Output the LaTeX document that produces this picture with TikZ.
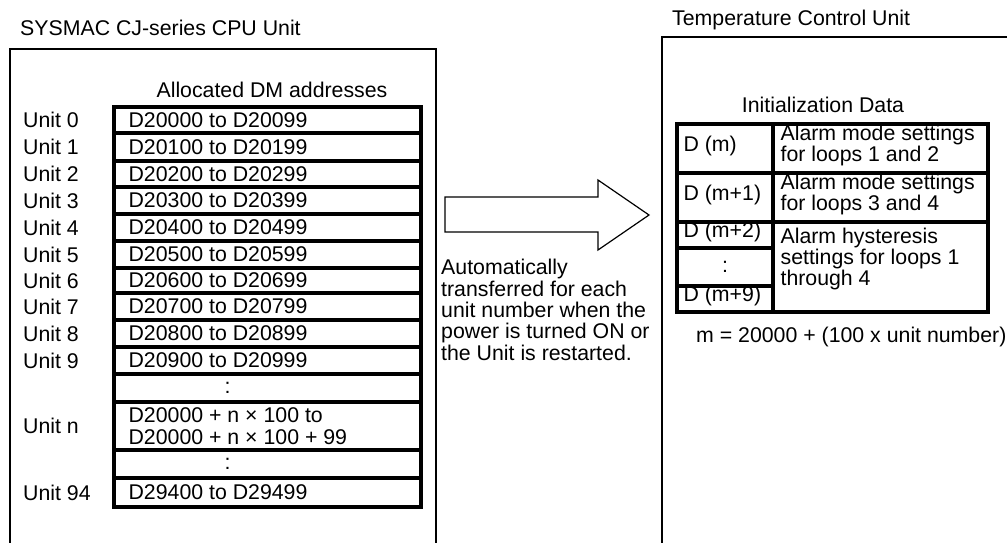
\documentclass[tikz,border=0pt]{standalone}
\usepackage{fontspec}
\setmainfont{Liberation Sans}
\usetikzlibrary{positioning}
\definecolor{inkline}{HTML}{000000}
\tikzset{
  unitbox/.style = {draw=inkline, line width=2.6pt},
  cell/.style    = {rectangle, draw=inkline, line width=3.2pt, inner sep=0pt},
  lbl/.style     = {font=\fontsize{21.3}{21.4}\selectfont, inner sep=0pt, align=left},
  xfer/.style    = {draw=inkline, line width=1.2pt, line join=miter},
}

\begin{document}
\begin{tikzpicture}[x=1pt, y=-1pt]
    \useasboundingbox (0,0) rectangle (1007,542);
    \clip (0,0) rectangle (1007,542);
    % CPU Unit
    \draw[unitbox] (10,49) rectangle (436,560);
    \node[lbl, anchor=west] (cpu) at (20,28) {SYSMAC CJ-series CPU Unit};
    \node[lbl] (dmhdr) at (272,90) {Allocated DM addresses};
    \foreach \r/\yt/\yb/\lab/\dx/\addr in {0/107/133/Unit 0/16/D20000 to D20099,
        1/133/161/Unit 1/16/D20100 to D20199, 2/161/187/Unit 2/16/D20200 to D20299,
        3/187/214/Unit 3/16/D20300 to D20399, 4/214/241/Unit 4/16/D20400 to D20499,
        5/241/268/Unit 5/16/D20500 to D20599, 6/268/293/Unit 6/16/D20600 to D20699,
        7/293/320/Unit 7/16/D20700 to D20799, 8/320/347/Unit 8/16/D20800 to D20899,
        9/347/374/Unit 9/16/D20900 to D20999, a/374/402/{}/112/:,
        n/402/450/Unit n/16/{D20000 + n × 100 to\\D20000 + n × 100 + 99},
        b/450/478/{}/112/:, 94/478/507/Unit 94/16/D29400 to D29499}{
        \node[cell, minimum width=307pt, minimum height={\yb-\yt}] (dm\r) at (267.5,{(\yt+\yb)/2}) {};
        \node[lbl, anchor=west] (dmt\r) at ([xshift=\dx pt]dm\r.west) {\addr};
        \node[lbl, anchor=west] (unit\r) at (23,{(\yt+\yb)/2}) {\lab};
    }
    % transfer
    \draw[xfer] (445,197) -- (598,197) -- (598,180) -- (649,215) -- (598,250) -- (598,232) -- (445,232) -- cycle;
    \node[lbl, anchor=north west] (note) at (441,259) {Automatically\\transferred for each\\unit number when the\\power is turned ON or\\the Unit is restarted.};
    % Temperature Control Unit
    \draw[unitbox] (662,37) rectangle (1030,560);
    \node[lbl, anchor=west] (tcu) at (672,20) {Temperature Control Unit};
    \node[lbl] (inihdr) at (823,105) {Initialization Data};
    \foreach \r/\yt/\yb/\addr in {m/124/173/D (m), m1/173/222/D (m+1), m2/222/248/D (m+2),
        md/248/286/{}, m9/286/312/D (m+9)}{
        \node[cell, minimum width=96pt, minimum height={\yb-\yt}] (ini\r) at (725,{(\yt+\yb)/2}) {};
        \node[lbl, anchor=west] (init\r) at ([xshift=8pt, yshift=3pt]ini\r.west) {\addr};
    }
    \node[lbl] (inidots) at (inimd) {:};
    \node[cell, minimum width=215pt, minimum height=49pt] (set1) at (880.5,148.5) {};
    \node[cell, minimum width=215pt, minimum height=49pt] (set2) at (880.5,197.5) {};
    \node[cell, minimum width=215pt, minimum height=90pt] (set3) at (880.5,267) {};
    \node[lbl, anchor=west] (sett1) at ([xshift=9pt, yshift=3pt]set1.west) {Alarm mode settings\\for loops 1 and 2};
    \node[lbl, anchor=west] (sett2) at ([xshift=9pt, yshift=3pt]set2.west) {Alarm mode settings\\for loops 3 and 4};
    \node[lbl, anchor=north west] (sett3) at ([xshift=9pt, yshift=-7pt]set3.north west) {Alarm hysteresis\\settings for loops 1\\through 4};
    \node[lbl, anchor=west] (mform) at (696,337) {m = 20000 + (100 x unit number)};
\end{tikzpicture}
\end{document}
